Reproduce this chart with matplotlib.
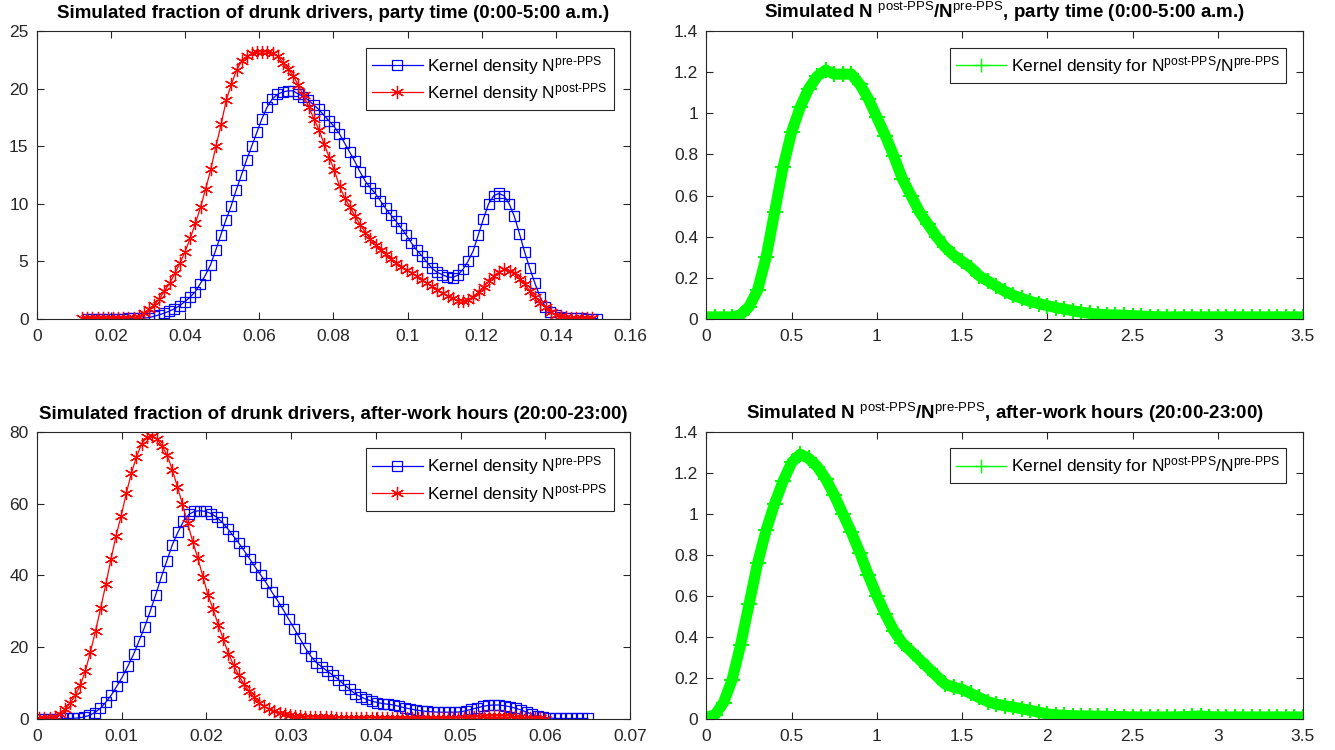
import numpy as np
import matplotlib
matplotlib.use("Agg")
import matplotlib.pyplot as plt
from matplotlib.ticker import FuncFormatter, MultipleLocator
from matplotlib.lines import Line2D

plt.rcParams['font.family'] = ['Liberation Sans', 'DejaVu Sans']
plt.rcParams['mathtext.fontset'] = 'custom'
plt.rcParams['mathtext.rm'] = 'Liberation Sans'
plt.rcParams['mathtext.it'] = 'Liberation Sans:italic'
plt.rcParams['mathtext.bf'] = 'Liberation Sans:bold'

# ===============================
# dati (ksdensity, 100 punti per curva)
# party time 0:00-5:00
party_pre_x = np.linspace(0.0135, 0.1510, 100)
party_pre_y = [0.03, 0.03, 0.03, 0.03, 0.03, 0.03, 0.04, 0.04, 0.05, 0.05,
               0.06, 0.08, 0.11, 0.23, 0.36, 0.50, 0.68, 0.89, 1.15, 1.50,
               1.88, 2.35, 3.05, 3.80, 4.70, 5.95, 7.30, 8.60, 9.80, 11.2,
               12.5, 13.8, 15.0, 16.2, 17.4, 18.4, 19.1, 19.5, 19.7, 19.8,
               19.8, 19.55, 19.3, 19.0, 18.6, 18.2, 17.7, 17.2, 16.7, 16.1,
               15.3, 14.5, 13.7, 12.8, 12.0, 11.4, 10.9, 10.25, 9.6, 9.05,
               8.5, 7.9, 7.3, 6.6, 6.0, 5.5, 4.95, 4.4, 4.05, 3.85,
               3.65, 3.6, 3.8, 4.3, 5.0, 5.9, 7.3, 8.7, 10.0, 10.7,
               10.9, 10.7, 10.0, 8.9, 7.4, 5.8, 4.4, 3.1, 1.9, 1.07,
               0.58, 0.35, 0.2, 0.12, 0.08, 0.06, 0.05, 0.04, 0.04, 0.04]

party_post_x = np.linspace(0.0122, 0.1497, 100)
party_post_y = [0.05, 0.05, 0.05, 0.05, 0.05, 0.06, 0.06, 0.07, 0.08, 0.1,
                0.12, 0.2, 0.5, 0.85, 1.25, 1.75, 2.43, 3.1, 3.95, 4.85,
                5.85, 7.0, 8.3, 9.7, 11.3, 13.0, 15.0, 16.9, 19.0, 20.4,
                21.6, 22.4, 22.8, 23.05, 23.2, 23.2, 23.2, 23.05, 22.8, 22.25,
                21.7, 21.1, 20.3, 19.4, 18.4, 17.4, 16.4, 15.2, 14.0, 12.9,
                11.5, 10.5, 9.75, 8.9, 8.2, 7.5, 6.95, 6.4, 5.95, 5.6,
                5.2, 4.9, 4.55, 4.25, 4.0, 3.7, 3.4, 3.1, 2.85, 2.55,
                2.25, 2.0, 1.8, 1.6, 1.55, 1.68, 1.95, 2.35, 2.8, 3.3,
                3.75, 4.1, 4.3, 4.2, 4.0, 3.5, 3.0, 2.4, 1.9, 1.4,
                1.0, 0.62, 0.38, 0.24, 0.15, 0.1, 0.07, 0.06, 0.05, 0.05]

# after-work 20:00-23:00
work_pre_x = np.linspace(0.0003, 0.0650, 100)
work_pre_y = [0.1, 0.1, 0.1, 0.1, 0.15, 0.15, 0.2, 0.3, 0.55, 1.0,
              1.8, 3.0, 4.7, 6.7, 9.2, 11.8, 14.8, 18.0, 21.8, 25.6,
              30.0, 34.6, 39.5, 44.0, 48.5, 52.0, 55.0, 57.0, 57.8, 58.0,
              57.8, 57.2, 56.2, 54.8, 53.0, 51.0, 49.0, 46.8, 44.5, 42.2,
              40.0, 37.8, 35.3, 33.0, 30.5, 27.8, 25.2, 22.5, 19.8, 17.5,
              15.7, 14.5, 13.3, 12.2, 11.0, 9.6, 8.3, 7.0, 6.2, 5.5,
              5.0, 4.6, 4.3, 4.1, 3.9, 3.5, 3.1, 2.8, 2.5, 2.3,
              2.1, 2.0, 1.9, 1.9, 1.9, 1.9, 2.0, 2.3, 2.7, 3.1,
              3.5, 3.8, 3.9, 3.9, 3.7, 3.4, 3.0, 2.5, 1.9, 1.3,
              0.8, 0.5, 0.3, 0.2, 0.15, 0.15, 0.15, 0.15, 0.15, 0.15]

work_post_x = np.linspace(0.0003, 0.0600, 100)
work_post_y = [0.2, 0.2, 0.3, 0.7, 1.5, 2.8, 4.4, 6.6, 9.4, 13.4,
               18.8, 24.6, 31.0, 37.5, 44.5, 51.0, 56.6, 62.8, 68.5, 73.0,
               76.6, 78.4, 78.9, 78.0, 76.0, 73.4, 69.4, 64.7, 59.8, 54.5,
               49.4, 44.8, 39.6, 34.5, 30.5, 26.2, 22.2, 18.2, 15.0, 12.2,
               9.7, 7.8, 6.0, 4.6, 3.5, 2.7, 2.2, 1.7, 1.4, 1.1,
               0.9, 0.8, 0.7, 0.6, 0.55, 0.5, 0.45, 0.45, 0.4, 0.4,
               0.4, 0.35, 0.35, 0.3, 0.3, 0.3, 0.3, 0.25, 0.25, 0.25,
               0.25, 0.2, 0.2, 0.2, 0.2, 0.2, 0.2, 0.2, 0.25, 0.25,
               0.3, 0.3, 0.35, 0.4, 0.5, 0.6, 0.7, 0.8, 0.9, 0.95,
               0.95, 0.9, 0.8, 0.65, 0.5, 0.4, 0.3, 0.2, 0.15, 0.1]

# rapporto N post/N pre
ratio_x = np.arange(0, 3.5001, 0.05)
ratio_party_y = [0.01, 0.01, 0.01, 0.01, 0.02, 0.06, 0.14, 0.30, 0.52, 0.74,
                 0.91, 1.03, 1.12, 1.18, 1.21, 1.19, 1.19, 1.19, 1.14, 1.07,
                 0.98, 0.89, 0.79, 0.68, 0.60, 0.52, 0.46, 0.40, 0.35, 0.31,
                 0.28, 0.25, 0.21, 0.185, 0.16, 0.135, 0.115, 0.10, 0.085, 0.075,
                 0.065, 0.055, 0.048, 0.04, 0.033, 0.027, 0.023, 0.02, 0.019, 0.018,
                 0.016, 0.014, 0.012, 0.011, 0.01, 0.01, 0.01, 0.01, 0.01, 0.01,
                 0.01, 0.01, 0.01, 0.01, 0.01, 0.01, 0.01, 0.01, 0.01, 0.01,
                 0.01]
ratio_work_y = [0.01, 0.02, 0.08, 0.19, 0.36, 0.56, 0.76, 0.92, 1.05, 1.16,
                1.25, 1.29, 1.27, 1.23, 1.17, 1.09, 1.00, 0.91, 0.81, 0.70,
                0.60, 0.51, 0.43, 0.37, 0.33, 0.29, 0.25, 0.21, 0.17, 0.155,
                0.145, 0.125, 0.105, 0.085, 0.072, 0.065, 0.058, 0.05, 0.042, 0.033,
                0.025, 0.02, 0.018, 0.016, 0.015, 0.015, 0.014, 0.013, 0.012, 0.011,
                0.01, 0.01, 0.01, 0.01, 0.01, 0.01, 0.011, 0.013, 0.015, 0.012,
                0.01, 0.01, 0.01, 0.01, 0.01, 0.01, 0.01, 0.01, 0.01, 0.01,
                0.01]

# ===============================
f_title = 13.5
f_ticks = 12.5
f_leg = 12.5
col_ax = (0.15, 0.15, 0.15)
asterisco = (6, 2, 0)

lab_pre = r'Kernel density N$^{\text{pre-PPS}}$'
lab_post = r'Kernel density N$^{\text{post-PPS}}$'
lab_ratio = r'Kernel density for N$^{\text{post-PPS}}$/N$^{\text{pre-PPS}}$'

fig = plt.figure(figsize=(13.35, 7.5), dpi=100)
pos = {'TL': [0.0276, 0.5747, 0.4444, 0.384],
       'TR': [0.5292, 0.5747, 0.4468, 0.384],
       'BL': [0.0276, 0.0413, 0.4444, 0.3831],
       'BR': [0.5292, 0.0413, 0.4468, 0.3831]}


def stile_matlab(ax, xmax, xstep, ymax, ystep):
    ax.set_xlim(0, xmax)
    ax.set_ylim(0, ymax)
    ax.xaxis.set_major_locator(MultipleLocator(xstep))
    ax.yaxis.set_major_locator(MultipleLocator(ystep))
    fmt = FuncFormatter(lambda v, p: f"{v:g}")
    ax.xaxis.set_major_formatter(fmt)
    ax.yaxis.set_major_formatter(fmt)
    ax.tick_params(direction='in', length=5, width=0.8, top=True, right=True,
                   colors=col_ax, labelsize=f_ticks)
    ax.tick_params(axis='x', pad=7)
    ax.tick_params(axis='y', pad=6)
    for s in ax.spines.values():
        s.set_color(col_ax)
        s.set_linewidth(0.8)


def legenda(ax, handles, labels):
    leg = ax.legend(handles, labels, loc='upper right', bbox_to_anchor=(0.972, 0.942),
                    fontsize=f_leg, fancybox=False, framealpha=1, edgecolor=col_ax,
                    borderaxespad=0, handlelength=2.9, handletextpad=0.25,
                    borderpad=0.35, labelspacing=0.25)
    leg.get_frame().set_linewidth(0.8)
    return leg


def pannello_frazione(ax, xp, yp, xq, yq, titolo, xmax, xstep, ymax, ystep):
    hp, = ax.plot(xp, yp, color='blue', lw=0.9, marker='s', ms=6.5, mfc='none',
                  mew=0.9)
    hq, = ax.plot(xq, yq, color='red', lw=0.9, marker=asterisco, ms=9.5, mew=0.9)
    stile_matlab(ax, xmax, xstep, ymax, ystep)
    ax.set_title(titolo, fontsize=f_title, fontweight='bold', pad=9)
    legenda(ax, [hp, hq], [lab_pre, lab_post])


def pannello_rapporto(ax, x, y, titolo):
    ax.plot(x, y, color=(0, 1, 0), lw=8, solid_capstyle='butt', solid_joinstyle='round')
    ax.plot(x, y, color=(0, 1, 0), lw=1, ls='none', marker='+', ms=11, mew=1.5)
    stile_matlab(ax, 3.5, 0.5, 1.4, 0.2)
    ax.set_title(titolo, fontsize=f_title, fontweight='bold', pad=9)
    h = Line2D([], [], color=(0, 1, 0), lw=1, marker='+', ms=10, mew=1)
    legenda(ax, [h], [lab_ratio])


ax1 = fig.add_axes(pos['TL'])
pannello_frazione(ax1, party_pre_x, party_pre_y, party_post_x, party_post_y,
                  'Simulated fraction of drunk drivers, party time (0:00-5:00 a.m.)',
                  0.16, 0.02, 25, 5)

ax2 = fig.add_axes(pos['TR'])
pannello_rapporto(ax2, ratio_x, ratio_party_y,
                  r'Simulated N $^{\text{post-PPS}}$/N$^{\text{pre-PPS}}$, party time (0:00-5:00 a.m.)')

ax3 = fig.add_axes(pos['BL'])
pannello_frazione(ax3, work_pre_x, work_pre_y, work_post_x, work_post_y,
                  'Simulated fraction of drunk drivers, after-work hours (20:00-23:00)',
                  0.07, 0.01, 80, 20)

ax4 = fig.add_axes(pos['BR'])
pannello_rapporto(ax4, ratio_x, ratio_work_y,
                  r'Simulated N $^{\text{post-PPS}}$/N$^{\text{pre-PPS}}$, after-work hours (20:00-23:00)')

plt.savefig('out.png', dpi=100)
